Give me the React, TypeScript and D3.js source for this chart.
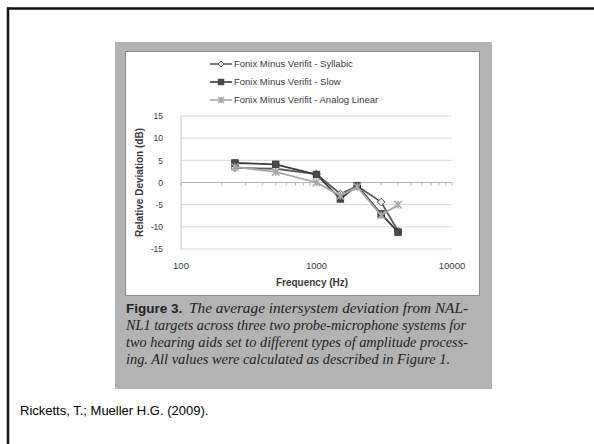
import React from "react";
import * as d3 from "d3";

const frequencies = [250, 500, 1000, 1500, 2000, 3000, 4000];
const syllabic = [3.3, 3.1, 1.9, -2.6, -0.8, -4.4, -11.0];
const slow = [4.4, 4.1, 1.8, -3.7, -0.7, -7.1, -11.2];
const analogLinear = [3.5, 2.4, 0.0, -3.0, -1.0, -7.4, -5.0];
const seriesNames = [
  "Fonix Minus Verifit - Syllabic",
  "Fonix Minus Verifit - Slow",
  "Fonix Minus Verifit - Analog Linear",
];
const yTicks = [15, 10, 5, 0, -5, -10, -15];
const xTicks = [100, 1000, 10000];
const captionLabel = "Figure 3.";
const captionLines = [
  "The average intersystem deviation from NAL-",
  "NL1 targets across three two probe-microphone systems for",
  "two hearing aids set to different types of amplitude process-",
  "ing. All values were calculated as described in Figure 1.",
];
const citation = "Ricketts, T.; Mueller H.G. (2009).";

const W = 594;
const H = 444;

export default function App() {
  const x = d3.scaleLog().domain([100, 10000]).range([181, 452]);
  const y = d3.scaleLinear().domain([-15, 15]).range([249, 116]);
  const minor: number[] = [];
  [100, 1000].forEach((d) => {
    for (let k = 1; k <= 10; k++) minor.push(d * k);
  });

  const series = [
    { name: seriesNames[0], values: syllabic, color: "#5a5a5a", marker: "diamond" },
    { name: seriesNames[1], values: slow, color: "#3c3c3c", marker: "square" },
    { name: seriesNames[2], values: analogLinear, color: "#a8a8a8", marker: "star" },
  ];

  const line = d3
    .line<[number, number]>()
    .x((d) => x(d[0]))
    .y((d) => y(d[1]));

  const marker = (type: string, cx: number, cy: number, color: string, s: number) => {
    if (type === "square")
      return <rect x={cx - s} y={cy - s} width={2 * s} height={2 * s} fill="#4a4a4a" stroke="#333" strokeWidth={0.8} />;
    if (type === "diamond")
      return (
        <path
          d={`M${cx},${cy - s}L${cx + s},${cy}L${cx},${cy + s}L${cx - s},${cy}Z`}
          fill="#e6e6e6"
          stroke={color}
          strokeWidth={1}
        />
      );
    return (
      <path
        d={`M${cx - s},${cy - s}L${cx + s},${cy + s}M${cx - s},${cy + s}L${cx + s},${cy - s}M${cx},${cy - s}L${cx},${cy + s}`}
        stroke={color}
        strokeWidth={1.5}
        fill="none"
      />
    );
  };

  const font = "Liberation Sans, Arial, sans-serif";
  const textCol = "#3a3a3a";
  const capFont = "Liberation Serif, serif";

  return (
    <svg width={W} height={H} style={{ position: "absolute", left: 0, top: 0, background: "#fff" }}>
      <rect x={0} y={0} width={W} height={H} fill="#fff" />
      <line x1={7} x2={W} y1={8.5} y2={8.5} stroke="#111" strokeWidth={2.5} />
      <line x1={8} x2={8} y1={7.5} y2={H} stroke="#111" strokeWidth={2.5} />

      <rect x={115} y={42} width={377} height={347} fill="#b3b3b3" />
      <rect x={125.5} y={51.5} width={354} height={244} fill="#fff" stroke="#8c8c8c" strokeWidth={1} />

      {series.map((s, i) => {
        const ly = 64 + i * 18;
        return (
          <g key={s.name}>
            <line x1={210} x2={232} y1={ly} y2={ly} stroke={s.color} strokeWidth={1.6} />
            {marker(s.marker, 221, ly, s.color, s.marker === "square" ? 2.8 : 3)}
            <text x={234} y={ly + 3.3} fontSize={9.5} fontFamily={font} fill={textCol}>
              {s.name}
            </text>
          </g>
        );
      })}

      {yTicks.map((t) => (
        <g key={t}>
          <line x1={x(100)} x2={x(10000)} y1={y(t)} y2={y(t)} stroke={t === 0 ? "#b5b5b5" : "#d6d6d6"} strokeWidth={1} />
          <text x={163} y={y(t) + 3.2} textAnchor="end" fontSize={8.5} fontFamily={font} fill={textCol}>
            {t}
          </text>
        </g>
      ))}
      <line x1={x(100)} x2={x(100)} y1={y(15)} y2={y(-15)} stroke="#c4c4c4" strokeWidth={1} />
      {minor.map((m, i) => (
        <line key={i} x1={x(m)} x2={x(m)} y1={y(0)} y2={y(0) + 3} stroke="#b5b5b5" strokeWidth={1} />
      ))}
      {xTicks.map((t) => (
        <text key={t} x={x(t)} y={268.5} textAnchor="middle" fontSize={9.5} fontFamily={font} fill={textCol}>
          {t}
        </text>
      ))}
      <text x={312} y={285.5} textAnchor="middle" fontSize={10} fontWeight="bold" fontFamily={font} fill={textCol}>
        Frequency (Hz)
      </text>
      <text
        transform={`translate(143,${y(0)}) rotate(-90)`}
        textAnchor="middle"
        fontSize={10}
        fontWeight="bold"
        fontFamily={font}
        fill={textCol}
      >
        Relative Deviation (dB)
      </text>

      {series.map((s) => {
        const pts = frequencies.map((f, i) => [f, s.values[i]] as [number, number]);
        return (
          <g key={s.name}>
            <path d={line(pts) || ""} fill="none" stroke={s.color} strokeWidth={1.8} />
            {pts.map((p, i) => (
              <g key={i}>{marker(s.marker, x(p[0]), y(p[1]), s.color, s.marker === "square" ? 3.3 : 3.8)}</g>
            ))}
          </g>
        );
      })}

      <text x={126} y={313} fontSize={13.5} fontWeight="bold" fontFamily={font} fill="#222">
        {captionLabel}
      </text>
      <text x={189} y={313} fontSize={14.5} fontStyle="italic" fontFamily={capFont} fill="#222" textLength={279} lengthAdjust="spacingAndGlyphs">
        {captionLines[0]}
      </text>
      {captionLines.slice(1).map((l, i) => (
        <text
          key={i}
          x={126}
          y={330 + i * 16.8}
          fontSize={14.5}
          fontStyle="italic"
          fontFamily={capFont}
          fill="#222"
          textLength={i === 0 ? 340 : i === 1 ? 342 : 324}
          lengthAdjust="spacingAndGlyphs"
        >
          {l}
        </text>
      ))}

      <text x={20} y={415} fontSize={13} fontFamily={font} fill="#000">
        {citation}
      </text>
    </svg>
  );
}
